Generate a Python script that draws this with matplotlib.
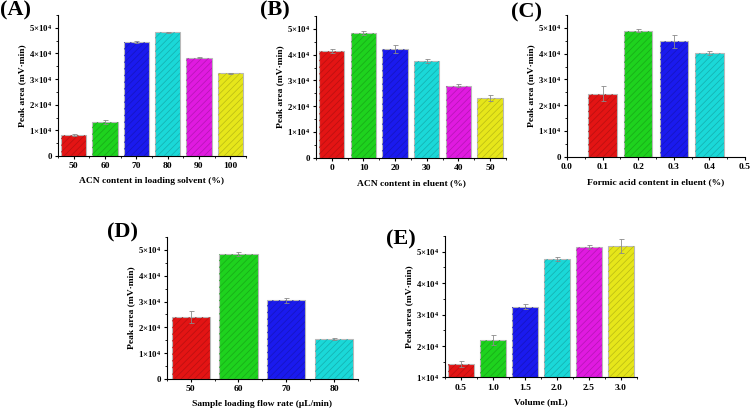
import numpy as np
import matplotlib
matplotlib.use("Agg")
import matplotlib.pyplot as plt
from matplotlib.ticker import FuncFormatter, AutoMinorLocator, MultipleLocator
import matplotlib.colors as mcolors

plt.rcParams['font.family'] = 'Liberation Serif'
plt.rcParams['font.weight'] = 'bold'
plt.rcParams['mathtext.fontset'] = 'custom'
plt.rcParams['mathtext.rm'] = 'Liberation Serif:bold'
plt.rcParams['mathtext.bf'] = 'Liberation Serif:bold'
plt.rcParams['mathtext.default'] = 'rm'
plt.rcParams['hatch.linewidth'] = 0.5

# ---- data ----
colors = ['#e31414', '#1ed21e', '#1a1aee', '#1ad8d8', '#e01ae0', '#e6e61a']

a_labels = ['50', '60', '70', '80', '90', '100']
a_vals = [8300, 13300, 44300, 48300, 38400, 32300]
a_errs = [400, 900, 400, 200, 300, 200]

b_labels = ['0', '10', '20', '30', '40', '50']
b_vals = [41500, 48400, 42100, 37600, 28000, 23300]
b_errs = [700, 800, 1500, 900, 600, 1200]

c_x = [0.1, 0.2, 0.3, 0.4]
c_vals = [24500, 48900, 44800, 40300]
c_errs = [3000, 500, 2600, 900]

d_labels = ['50', '60', '70', '80']
d_vals = [24000, 48400, 30500, 15500]
d_errs = [2200, 600, 1000, 500]

e_labels = ['0.5', '1.0', '1.5', '2.0', '2.5', '3.0']
e_vals = [14400, 21900, 32500, 47700, 51500, 51700]
e_errs = [1000, 1500, 800, 700, 700, 2200]


def sci(v, pos):
    if abs(v) < 1:
        return '0'
    m = int(round(v / 1e4))
    return r'$%d{\times}10^{4}$' % m


def draw(ax, x, vals, errs, width, ylim, xlabel):
    for xi, v, e, c in zip(x, vals, errs, colors):
        ax.bar(xi, v, width=width, color=c, edgecolor='#b8b8b8', linewidth=0.8,
               zorder=2)
        dark = np.array(mcolors.to_rgb(c)) * 0.8
        ax.bar(xi, v, width=width, color='none', edgecolor=dark, linewidth=0,
               hatch='/////', zorder=3)
        ax.errorbar(xi, v, yerr=e, color='#8a8a8a', capsize=1.8, elinewidth=0.6,
                    capthick=0.6, zorder=4)
    ax.set_ylim(*ylim)
    ax.yaxis.set_major_locator(MultipleLocator(10000))
    ax.yaxis.set_minor_locator(AutoMinorLocator(2))
    ax.yaxis.set_major_formatter(FuncFormatter(sci))
    ax.spines['top'].set_visible(False)
    ax.spines['right'].set_visible(False)
    ax.tick_params(axis='y', which='major', labelsize=6.3, length=2.5, width=0.8, pad=1.5)
    ax.tick_params(axis='y', which='minor', length=1.5, width=0.6)
    ax.tick_params(axis='x', which='major', labelsize=6.8, length=2.5, width=0.8, pad=2)
    ax.tick_params(axis='x', which='minor', length=1.5, width=0.6)
    ax.set_ylabel('Peak area (mV·min)', fontsize=6.8, fontweight='bold', labelpad=2)
    ax.set_xlabel(xlabel, fontsize=6.8, fontweight='bold', labelpad=5)


fig = plt.figure(figsize=(7.5, 4.08), dpi=100)

axA = fig.add_axes([0.0773, 0.6176, 0.2507, 0.3456])
draw(axA, range(6), a_vals, a_errs, 0.8, (0, 55000), 'ACN content in loading solvent (%)')
axA.set_xlim(-0.5, 5.5)
axA.set_xticks(range(6))
axA.set_xticklabels(a_labels)
axA.set_xticks(np.arange(-0.5, 6, 1), minor=True)

axB = fig.add_axes([0.4213, 0.6135, 0.2533, 0.3473])
draw(axB, range(6), b_vals, b_errs, 0.8, (0, 55000), 'ACN content in eluent (%)')
axB.set_xlim(-0.5, 5.5)
axB.set_xticks(range(6))
axB.set_xticklabels(b_labels)
axB.set_xticks(np.arange(-0.5, 6, 1), minor=True)

axC = fig.add_axes([0.756, 0.616, 0.2373, 0.3473])
draw(axC, c_x, c_vals, c_errs, 0.08, (0, 55000), 'Formic acid content in eluent (%)')
axC.set_xlim(0, 0.5)
axC.set_xticks(np.arange(0, 0.51, 0.1))
axC.set_xticklabels(['0.0', '0.1', '0.2', '0.3', '0.4', '0.5'])
axC.set_xticks(np.arange(0.05, 0.5, 0.1), minor=True)

axD = fig.add_axes([0.2223, 0.0711, 0.2551, 0.3480])
draw(axD, range(4), d_vals, d_errs, 0.8, (0, 55000), 'Sample loading flow rate (μL/min)')
axD.set_xlim(-0.5, 3.5)
axD.set_xticks(range(4))
axD.set_xticklabels(d_labels)
axD.set_xticks(np.arange(-0.5, 4, 1), minor=True)

axE = fig.add_axes([0.5933, 0.0748, 0.256, 0.3468])
draw(axE, range(6), e_vals, e_errs, 0.8, (10000, 55000), 'Volume (mL)')
axE.set_xlim(-0.5, 5.5)
axE.set_xticks(range(6))
axE.set_xticklabels(e_labels)
axE.set_xticks(np.arange(-0.5, 6, 1), minor=True)

for lab, x, y in [('(A)', 0.0, 0.998), ('(B)', 0.347, 0.998), ('(C)', 0.681, 0.995),
                  ('(D)', 0.1427, 0.455), ('(E)', 0.5147, 0.438)]:
    fig.text(x, y, lab, fontsize=16, fontweight='bold', va='top', ha='left')

fig.savefig('out.png', dpi=100)
